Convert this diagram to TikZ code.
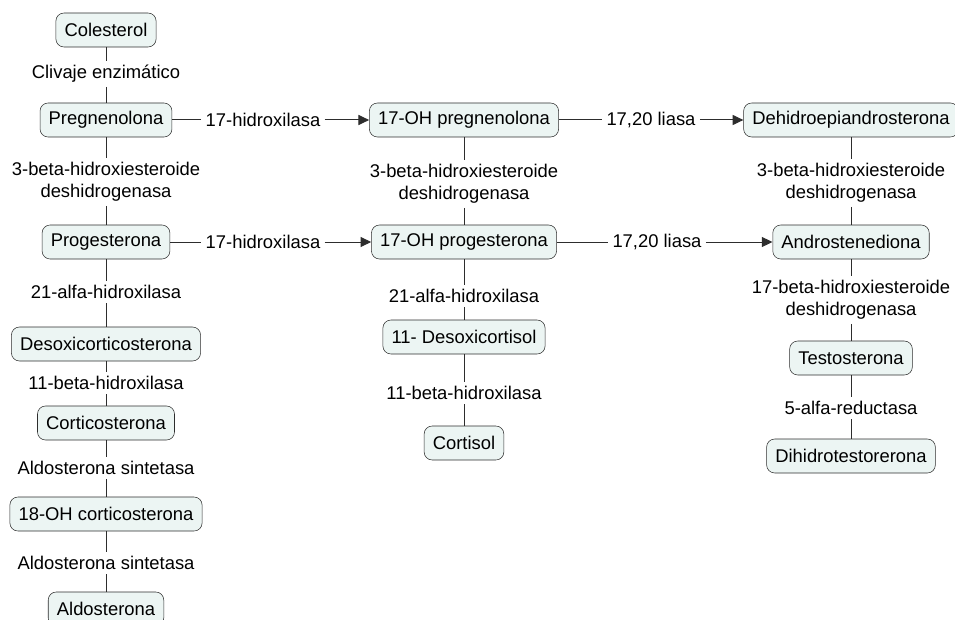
\documentclass[tikz,border=0pt]{standalone}
\usepackage{fontspec}
\setmainfont{Liberation Sans}
\usetikzlibrary{arrows.meta}
\definecolor{boxfill}{RGB}{236,245,243}
\definecolor{linegray}{RGB}{45,45,45}
\tikzset{
  compound/.style={draw=linegray, fill=boxfill, rounded corners=6pt, minimum height=25.5pt, inner xsep=6.5pt, inner ysep=2pt},
  enzyme/.style={inner sep=3pt, align=center},
  link/.style={draw=linegray, line width=0.75pt},
  tolink/.style={link, -{Triangle[length=8pt,width=7.5pt]}}
}
\begin{document}
\begin{tikzpicture}[x=0.75pt,y=-0.75pt,font=\fontsize{13.8}{16.5}\selectfont]
\useasboundingbox (0,0) rectangle (955,620);
% left column: mineralocorticoids
\node[compound] (col) at (106,30) {Colesterol};
\node[enzyme] (clivaje) at (106,74) {Clivaje enzimático};
\node[compound] (preg) at (106,120) {Pregnenolona};
\node[enzyme] (hsdA) at (106,182) {3-beta-hidroxiesteroide\\deshidrogenasa};
\node[compound] (prog) at (106,242) {Progesterona};
\node[enzyme] (hidA) at (106,292) {21-alfa-hidroxilasa};
\node[compound] (doc) at (106,344) {Desoxicorticosterona};
\node[enzyme] (betaA) at (106,383) {11-beta-hidroxilasa};
\node[compound] (cort) at (106,423) {Corticosterona};
\node[enzyme] (sintA) at (106,468) {Aldosterona sintetasa};
\node[compound] (ohcort) at (106,514) {18-OH corticosterona};
\node[enzyme] (sintB) at (106,563) {Aldosterona sintetasa};
\node[compound] (aldo) at (106,609) {Aldosterona};
% middle column: glucocorticoids
\node[compound] (ohpreg) at (464,120) {17-OH pregnenolona};
\node[enzyme] (hsdB) at (464,184) {3-beta-hidroxiesteroide\\deshidrogenasa};
\node[compound] (ohprog) at (464,242) {17-OH progesterona};
\node[enzyme] (hidB) at (464,296) {21-alfa-hidroxilasa};
\node[compound] (desox) at (464,337) {11- Desoxicortisol};
\node[enzyme] (betaB) at (464,393) {11-beta-hidroxilasa};
\node[compound] (cortisol) at (464,443) {Cortisol};
% right column: androgens
\node[compound] (dhea) at (851,120) {Dehidroepiandrosterona};
\node[enzyme] (hsdC) at (851,183) {3-beta-hidroxiesteroide\\deshidrogenasa};
\node[compound] (andro) at (851,242) {Androstenediona};
\node[enzyme] (hsdD) at (851,300) {17-beta-hidroxiesteroide\\deshidrogenasa};
\node[compound] (testo) at (851,358) {Testosterona};
\node[enzyme] (red) at (851,408) {5-alfa-reductasa};
\node[compound] (dht) at (851,456) {Dihidrotestorerona};
% horizontal enzymes
\node[enzyme] (hxA) at (263,120) {17-hidroxilasa};
\node[enzyme] (hxB) at (263,242) {17-hidroxilasa};
\node[enzyme] (liasaA) at (651,120) {17,20 liasa};
\node[enzyme] (liasaB) at (657,242) {17,20 liasa};
% vertical links
\draw[link] (col) -- (clivaje) -- (preg) -- (hsdA) -- (prog) -- (hidA) -- (doc) -- (betaA) -- (cort) -- (sintA) -- (ohcort) -- (sintB) -- (aldo);
\draw[link] (ohpreg) -- (hsdB) -- (ohprog) -- (hidB) -- (desox) -- (betaB) -- (cortisol);
\draw[link] (dhea) -- (hsdC) -- (andro) -- (hsdD) -- (testo) -- (red) -- (dht);
% horizontal links
\draw[link] (preg) -- (hxA);
\draw[tolink] (hxA) -- (ohpreg);
\draw[link] (prog) -- (hxB);
\draw[tolink] (hxB) -- (ohprog);
\draw[link] (ohpreg) -- (liasaA);
\draw[tolink] (liasaA) -- (dhea);
\draw[link] (ohprog) -- (liasaB);
\draw[tolink] (liasaB) -- (andro);
\end{tikzpicture}
\end{document}
